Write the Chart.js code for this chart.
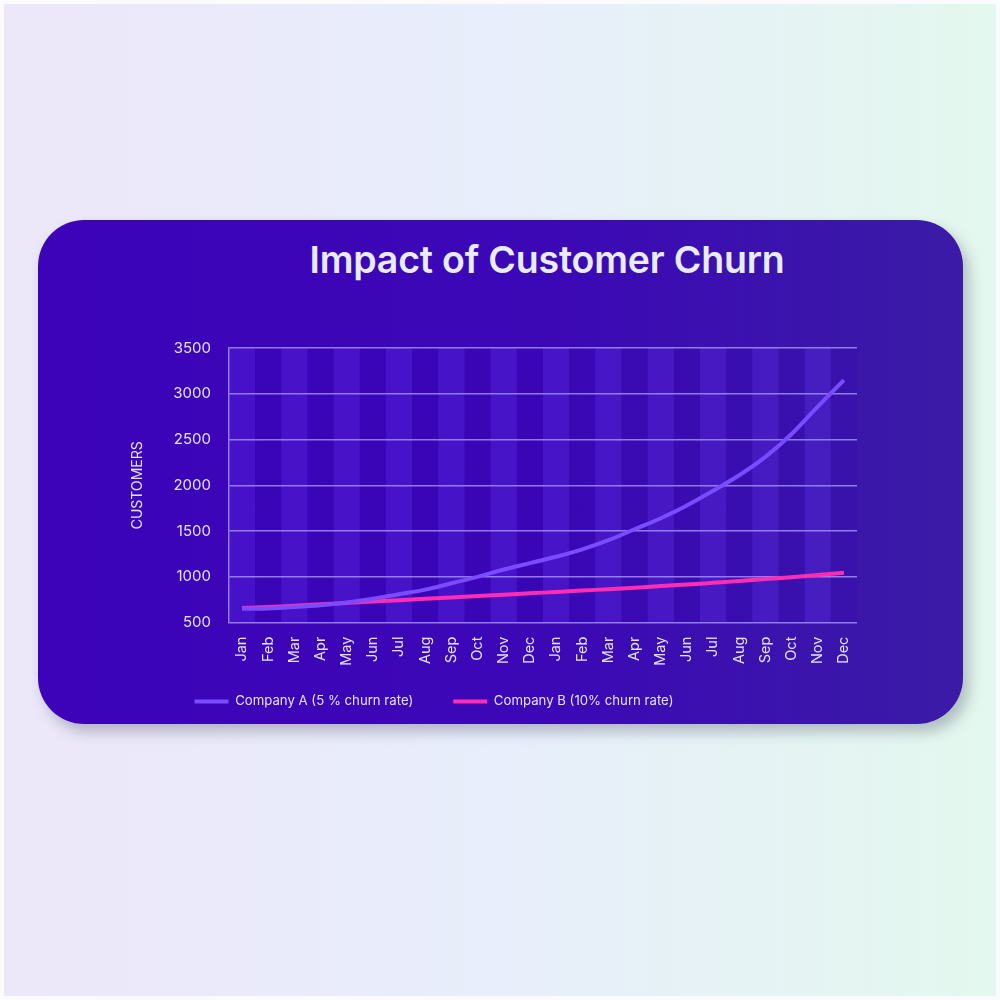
<!DOCTYPE html>
<html>
<head>
<meta charset="utf-8">
<script src="https://cdn.jsdelivr.net/npm/chart.js@4.4.1/dist/chart.umd.min.js"></script>
<style>
  html, body { margin: 0; padding: 0; }
  body { width: 1000px; height: 1000px; background: #fbfbfe; position: relative; overflow: hidden; }
  #page {
    position: absolute; left: 4px; top: 4px; width: 992px; height: 992px;
    background: linear-gradient(90deg, #ece7f9 0%, #e8eefb 50%, #e3f8ee 100%);
  }
  #card {
    position: absolute; left: 38px; top: 220px; width: 925px; height: 504px;
    border-radius: 46px;
    background: linear-gradient(90deg, #3c03b9 0%, #3c08b6 55%, #3a1ba6 100%);
    box-shadow: 6px 8px 14px rgba(40, 40, 60, 0.28);
  }
  #title {
    position: absolute; left: 547px; top: 237px; transform: translateX(-50%);
    font-family: Inter, "Noto Sans", sans-serif; font-weight: 600; font-size: 37.5px;
    color: #e9ecff; white-space: nowrap; letter-spacing: -0.2px;
  }
  #wrap { position: absolute; left: 11px; top: 220px; width: 875px; height: 504px; }
</style>
</head>
<body>
<div id="page"></div>
<div id="card"></div>
<div id="title">Impact of Customer Churn</div>
<div id="wrap"><canvas id="churnChart"></canvas></div>
<script>
const months = ['Jan', 'Feb', 'Mar', 'Apr', 'May', 'Jun', 'Jul', 'Aug', 'Sep', 'Oct', 'Nov', 'Dec',
                'Jan', 'Feb', 'Mar', 'Apr', 'May', 'Jun', 'Jul', 'Aug', 'Sep', 'Oct', 'Nov', 'Dec'];
const companyA = [650, 655, 670, 690, 720, 760, 810, 860, 930, 1000, 1080, 1150,
                  1220, 1300, 1400, 1520, 1640, 1780, 1940, 2110, 2310, 2560, 2860, 3150];
const companyB = [660, 670, 685, 700, 715, 730, 745, 760, 775, 790, 805, 820,
                  835, 850, 865, 880, 900, 915, 935, 955, 975, 995, 1020, 1045];
const yTicks = [500, 1000, 1500, 2000, 2500, 3000, 3500];

const labelColor = '#e4e2ff';

// alternating column shading behind the grid
const columnStripes = {
    id: 'columnStripes',
    beforeDraw(chart) {
        const { ctx, chartArea, scales: { x } } = chart;
        const w = x.getPixelForValue(1) - x.getPixelForValue(0);
        ctx.save();
        for (let i = 0; i < months.length; i++) {
            const cx = x.getPixelForValue(i);
            ctx.fillStyle = i % 2 === 0 ? 'rgba(110, 60, 255, 0.24)' : 'rgba(50, 0, 180, 0.15)';
            ctx.fillRect(cx - w / 2, chartArea.top, w, chartArea.bottom - chartArea.top);
        }
        ctx.restore();
    }
};

const ctx = document.getElementById('churnChart');
new Chart(ctx, {
    type: 'line',
    data: {
        labels: months,
        datasets: [{
            label: 'Company A (5 % churn rate)',
            data: companyA,
            borderColor: '#7a4cff',
            backgroundColor: '#7a4cff',
            borderWidth: 4,
            pointRadius: 0,
            cubicInterpolationMode: 'monotone'
        }, {
            label: 'Company B (10% churn rate)',
            data: companyB,
            borderColor: '#ff2db2',
            backgroundColor: '#ff2db2',
            borderWidth: 4,
            pointRadius: 0,
            cubicInterpolationMode: 'monotone'
        }]
    },
    options: {
        responsive: true,
        maintainAspectRatio: false,
        animation: false,
        layout: { padding: { top: 128, right: 29, left: 0, bottom: 6 } },
        plugins: {
            tooltip: { enabled: false },
            legend: {
                position: 'bottom',
                // wide gap between the two items; the empty title pulls the row back up
                title: { display: true, text: '', font: { size: 1 }, padding: { top: -15, bottom: 0 } },
                labels: {
                    color: labelColor,
                    font: { family: 'Inter', size: 13.2 },
                    usePointStyle: true,
                    pointStyle: 'line',
                    pointStyleWidth: 34,
                    boxHeight: 4,
                    padding: 40
                }
            }
        },
        scales: {
            x: {
                offset: true,
                grid: { display: false },
                border: { display: false },
                afterFit(scale) { scale.height = 46; },
                ticks: {
                    color: labelColor,
                    font: { family: 'Inter', size: 14.5 },
                    maxRotation: 90,
                    minRotation: 90,
                    autoSkip: false,
                    padding: 6
                }
            },
            y: {
                min: 500,
                max: 3500,
                afterFit(scale) { scale.width = 218; },
                afterBuildTicks(scale) { scale.ticks = yTicks.map(v => ({ value: v })); },
                grid: { color: 'rgba(175, 160, 255, 0.75)', lineWidth: 1.5, drawTicks: false },
                border: { color: 'rgba(175, 160, 255, 0.75)', width: 1.5 },
                ticks: {
                    color: labelColor,
                    font: { family: 'Inter', size: 15 },
                    padding: 18,
                    callback: function (value) {
                        return String(value);
                    }
                },
                title: {
                    display: true,
                    text: 'CUSTOMERS',
                    color: labelColor,
                    font: { family: 'Inter', size: 14 },
                    padding: { top: 118, bottom: 0 }
                }
            }
        }
    },
    plugins: [columnStripes]
});
</script>
</body>
</html>
